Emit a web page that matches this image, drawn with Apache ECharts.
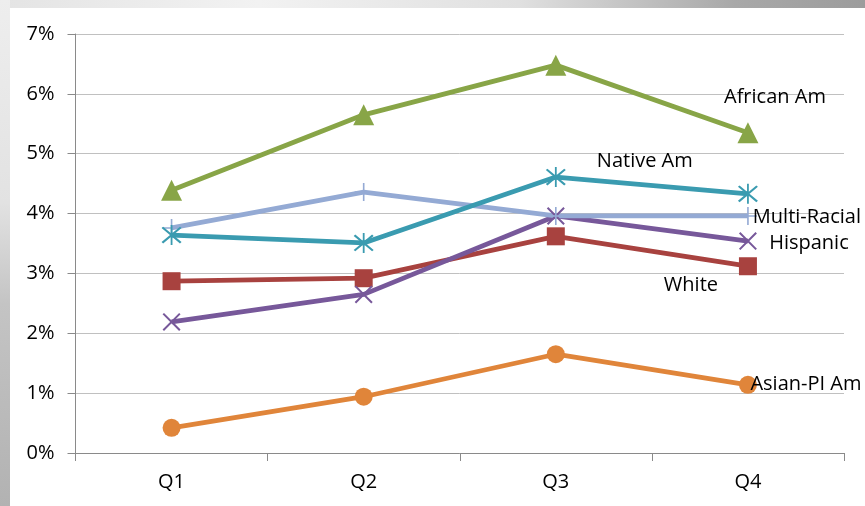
<!DOCTYPE html>
<html>
<head>
<meta charset="utf-8">
<script src="https://cdn.jsdelivr.net/npm/echarts@6/dist/echarts.min.js"></script>
<style>
html,body{margin:0;padding:0;background:#fff;}
#wrap{position:relative;width:865px;height:506px;overflow:hidden;background:#fff;}
#topStrip{position:absolute;left:0;top:0;width:865px;height:8px;
  background:linear-gradient(to right,#e4e4e4 0%,#f2f2f2 30%,#e0e0e0 60%,#a8a8a8 85%,#9c9c9c 100%);}
#leftStrip{position:absolute;left:0;top:0;width:10px;height:506px;
  background:linear-gradient(to bottom,#eeeeee 0%,#e2e2e2 40%,#c4c4c4 60%,#b2b2b2 100%);}
#chart{position:absolute;left:0;top:0;width:865px;height:506px;}
</style>
</head>
<body>
<div id="wrap">
<div id="topStrip"></div>
<div id="leftStrip"></div>
<div id="chart"></div>
</div>
<script>
const categories = ['Q1', 'Q2', 'Q3', 'Q4'];
const yTicks = [0, 1, 2, 3, 4, 5, 6, 7];
const africanAm  = [4.39, 5.65, 6.48, 5.35];
const multiRacial = [3.76, 4.36, 3.96, 3.96];
const nativeAm   = [3.64, 3.51, 4.61, 4.33];
const hispanic   = [2.19, 2.65, 3.96, 3.54];
const white      = [2.87, 2.92, 3.62, 3.12];
const asianPiAm  = [0.42, 0.94, 1.65, 1.14];

const FONT = '"Open Sans", "Noto Sans", sans-serif';
const X_PATH = 'path://M0,1.6 L1.6,0 L20,18.4 L18.4,20 Z M18.4,0 L20,1.6 L1.6,20 L0,18.4 Z';
const PLUS_PATH = 'path://M9.1,0 H10.9 V20 H9.1 Z M0,9.1 H20 V10.9 H0 Z';
const STAR_PATH = 'path://M0,1.6 L1.6,0 L20,18.4 L18.4,20 Z M18.4,0 L20,1.6 L1.6,20 L0,18.4 Z M9.1,-2 H10.9 V22 H9.1 Z';

function withLabel(values, idx, text, offset) {
  return values.map((v, i) => {
    if (i !== idx) return v;
    return {
      value: v,
      label: {
        show: true, position: 'inside', offset: offset,
        formatter: text, color: '#000', fontSize: 20, fontFamily: FONT
      }
    };
  });
}

function mkSeries(name, color, values, symbol, size, labelIdx, offset) {
  return {
    name: name, type: 'line',
    data: withLabel(values, labelIdx, name, offset),
    symbol: symbol, symbolSize: size,
    lineStyle: { color: color, width: 4.8 },
    itemStyle: { color: color },
    label: { show: false },
    emphasis: { disabled: true },
    animation: false
  };
}

const chart = echarts.init(document.getElementById('chart'), null, { renderer: 'canvas' });
chart.setOption({
  backgroundColor: 'transparent',
  animation: false,
  grid: { left: 75.5, right: 21, top: 34, bottom: 53 },
  xAxis: {
    type: 'category', data: categories, boundaryGap: true,
    axisLine: { lineStyle: { color: '#8a8a8a', width: 1 } },
    axisTick: { show: true, length: 8, lineStyle: { color: '#8a8a8a' } },
    axisLabel: { color: '#000', fontSize: 20, fontFamily: FONT, margin: 19 }
  },
  yAxis: {
    type: 'value', min: 0, max: 7, interval: 1,
    axisLine: { show: true, lineStyle: { color: '#8a8a8a', width: 1 } },
    axisTick: { show: true, length: 8, lineStyle: { color: '#8a8a8a' } },
    splitLine: { lineStyle: { color: '#c0c0c0', width: 1 } },
    axisLabel: {
      color: '#000', fontSize: 20, fontFamily: FONT, margin: 21,
      formatter: v => (yTicks.indexOf(v) >= 0 ? v + '%' : '')
    }
  },
  series: [
    mkSeries('Asian-PI Am', '#e0853a', asianPiAm, 'circle', 18, 3, [58, 0]),
    mkSeries('White', '#a8423f', white, 'rect', 18, 3, [-57, 19]),
    mkSeries('Hispanic', '#77589a', hispanic, X_PATH, 18, 3, [61, 2]),
    mkSeries('Multi-Racial', '#94aad4', multiRacial, PLUS_PATH, 18, 3, [59, 1]),
    mkSeries('Native Am', '#3a9bb0', nativeAm, STAR_PATH, 20, 2, [89, -16]),
    mkSeries('African Am', '#88a547', africanAm, 'triangle', 21, 3, [27, -35])
  ]
});
</script>
</body>
</html>
